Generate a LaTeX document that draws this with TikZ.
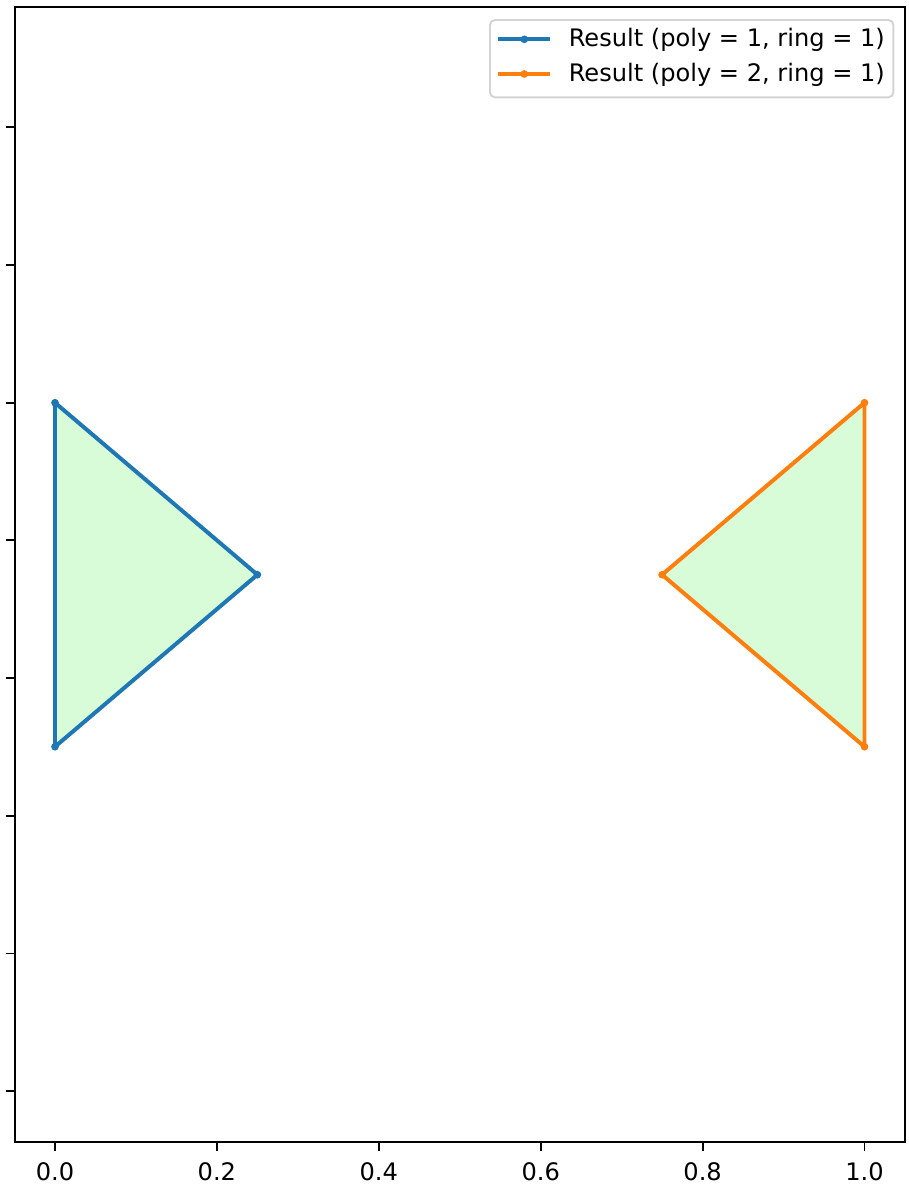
\documentclass[tikz,border=0pt]{standalone}
\usepackage{fontspec}
\setmainfont{DejaVu Sans}
\definecolor{tabblue}{HTML}{1F77B4}
\definecolor{taborange}{HTML}{FF7F0E}
\definecolor{polyfill}{RGB}{216,252,216}
\tikzset{
  ringline/.style={line width=1.65pt, line join=round},
  axtick/.style={line width=0.8pt},
  ticklabel/.style={anchor=base, inner sep=0pt, font=\fontsize{10pt}{12pt}\selectfont},
  legtext/.style={anchor=base west, inner sep=0pt, font=\fontsize{10pt}{12pt}\selectfont},
}
\begin{document}
\begin{tikzpicture}[x=0.415pt,y=-0.415pt]
      \useasboundingbox (0,0) rectangle (908,1190);
      % the two rings
      \filldraw[ringline, fill=polyfill, draw=tabblue] (55,402.7) -- (257.4,574.7) -- (55,746.7) -- cycle;
      \filldraw[ringline, fill=polyfill, draw=taborange] (864.5,402.7) -- (662.1,574.7) -- (864.5,746.7) -- cycle;
      \foreach \x\y in {55/402.7,257.4/574.7,55/746.7} {
        \fill[tabblue] (\x,\y) circle (1.6pt);
      }
      \foreach \x\y in {864.5/402.7,662.1/574.7,864.5/746.7} {
        \fill[taborange] (\x,\y) circle (1.6pt);
      }
      % axes
      \draw[line width=0.8pt] (14.7,7.3) rectangle (905,1142);
      \foreach \v [count=\i from 0] in {0.0,0.2,0.4,0.6,0.8,1.0} {
        \draw[axtick] ({55+\i*161.9},1142) -- ++(0,8.75);
        \node[ticklabel] (xl\i) at ({55+\i*161.9},1180.7) {\v};
      }
      \foreach \k in {0,...,7} {
        \draw[axtick] (14.7,{127.3+\k*137.7}) -- ++(-8.75,0);
      }
      % legend
      \draw[line width=0.8pt, draw=black!17, fill=white, rounded corners=2pt] (490,20) rectangle (893.3,97.3);
      \foreach \c\t\y in {tabblue/1/39.3,taborange/2/74} {
        \draw[ringline, \c] (498.3,\y) -- (550,\y);
        \fill[\c] (524.3,\y) circle (1.6pt);
        \node[legtext] (leg\t) at (568.3,{\y+7.4}) {Result (poly = \t, ring = 1)};
      }
    \end{tikzpicture}
\end{document}
